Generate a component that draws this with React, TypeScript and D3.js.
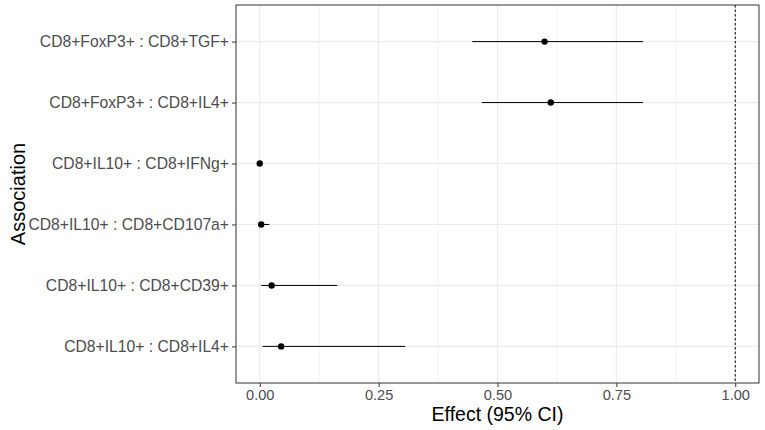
import { useEffect, useRef } from "react";
import * as d3 from "d3";

const associations = [
  "CD8+FoxP3+ : CD8+TGF+",
  "CD8+FoxP3+ : CD8+IL4+",
  "CD8+IL10+ : CD8+IFNg+",
  "CD8+IL10+ : CD8+CD107a+",
  "CD8+IL10+ : CD8+CD39+",
  "CD8+IL10+ : CD8+IL4+",
];
const effects = [0.599, 0.612, 0.0, 0.003, 0.025, 0.045];
const lowerCI = [0.447, 0.467, -0.001, 0.0, 0.003, 0.006];
const upperCI = [0.806, 0.806, 0.002, 0.02, 0.163, 0.306];
const xTicks = [0, 0.25, 0.5, 0.75, 1];
const xMinor = [0.125, 0.375, 0.625, 0.875];
const refLine = 1;

const W = 765;
const H = 430;

const App = () => {
  const svgRef = useRef<SVGSVGElement>(null);

  useEffect(() => {
    const margin = { top: 5, right: 6, bottom: 47, left: 236 };
    const svg = d3.select(svgRef.current).attr("width", W).attr("height", H);
    svg.selectAll("*").remove();

    const x = d3
      .scaleLinear()
      .domain([-0.05, 1.05])
      .range([margin.left, W - margin.right]);

    const y = d3
      .scalePoint()
      .domain(associations)
      .range([margin.top, H - margin.bottom])
      .padding(0.6);

    const font = "'Liberation Sans', Arial, sans-serif";

    // panel background
    svg
      .append("rect")
      .attr("x", margin.left)
      .attr("y", margin.top)
      .attr("width", W - margin.left - margin.right)
      .attr("height", H - margin.top - margin.bottom)
      .attr("fill", "white");

    // minor grid
    svg
      .selectAll(".minor")
      .data(xMinor)
      .enter()
      .append("line")
      .attr("x1", (d) => x(d))
      .attr("x2", (d) => x(d))
      .attr("y1", margin.top)
      .attr("y2", H - margin.bottom)
      .attr("stroke", "#F2F2F2")
      .attr("stroke-width", 1);

    // major grid
    svg
      .selectAll(".vmajor")
      .data(xTicks)
      .enter()
      .append("line")
      .attr("x1", (d) => x(d))
      .attr("x2", (d) => x(d))
      .attr("y1", margin.top)
      .attr("y2", H - margin.bottom)
      .attr("stroke", "#EBEBEB")
      .attr("stroke-width", 1.2);

    svg
      .selectAll(".hmajor")
      .data(associations)
      .enter()
      .append("line")
      .attr("x1", margin.left)
      .attr("x2", W - margin.right)
      .attr("y1", (d) => y(d)!)
      .attr("y2", (d) => y(d)!)
      .attr("stroke", "#EBEBEB")
      .attr("stroke-width", 1.2);

    // reference line
    svg
      .append("line")
      .attr("x1", x(refLine))
      .attr("x2", x(refLine))
      .attr("y1", margin.top)
      .attr("y2", H - margin.bottom)
      .attr("stroke", "black")
      .attr("stroke-width", 1)
      .attr("stroke-dasharray", "2.5,2");

    // CI lines
    svg
      .selectAll(".ci")
      .data(associations)
      .enter()
      .append("line")
      .attr("x1", (d, i) => x(lowerCI[i]))
      .attr("x2", (d, i) => x(upperCI[i]))
      .attr("y1", (d) => y(d)!)
      .attr("y2", (d) => y(d)!)
      .attr("stroke", "black")
      .attr("stroke-width", 1);

    // points
    svg
      .selectAll(".pt")
      .data(associations)
      .enter()
      .append("circle")
      .attr("cx", (d, i) => x(effects[i]))
      .attr("cy", (d) => y(d)!)
      .attr("r", 3.2)
      .attr("fill", "black");

    // panel border
    svg
      .append("rect")
      .attr("x", margin.left)
      .attr("y", margin.top)
      .attr("width", W - margin.left - margin.right)
      .attr("height", H - margin.top - margin.bottom)
      .attr("fill", "none")
      .attr("stroke", "#333333")
      .attr("stroke-width", 1);

    // x axis
    const xAxis = svg
      .append("g")
      .attr("transform", `translate(0,${H - margin.bottom})`)
      .call(
        d3
          .axisBottom(x)
          .tickValues(xTicks)
          .tickFormat(d3.format(".2f"))
          .tickSize(4)
          .tickPadding(3)
      );
    xAxis.select(".domain").remove();
    xAxis.selectAll("line").attr("stroke", "#333333");
    xAxis
      .selectAll("text")
      .attr("fill", "#4D4D4D")
      .style("font-family", font)
      .style("font-size", "14.6px");

    // y axis
    const yAxis = svg
      .append("g")
      .attr("transform", `translate(${margin.left},0)`)
      .call(d3.axisLeft(y).tickSize(4).tickPadding(3));
    yAxis.select(".domain").remove();
    yAxis.selectAll("line").attr("stroke", "#333333");
    yAxis
      .selectAll("text")
      .attr("fill", "#4D4D4D")
      .style("font-family", font)
      .style("font-size", "15.7px");

    // titles
    svg
      .append("text")
      .attr("x", (margin.left + W - margin.right) / 2)
      .attr("y", 421)
      .attr("text-anchor", "middle")
      .style("font-family", font)
      .style("font-size", "19.5px")
      .attr("fill", "black")
      .text("Effect (95% CI)");

    svg
      .append("text")
      .attr("transform", `translate(25,${(margin.top + H - margin.bottom) / 2}) rotate(-90)`)
      .attr("text-anchor", "middle")
      .style("font-family", font)
      .style("font-size", "20px")
      .attr("fill", "black")
      .text("Association");
  }, []);

  return (
    <svg
      ref={svgRef}
      style={{ position: "absolute", left: 0, top: 0, background: "white" }}
    />
  );
};

export default App;
